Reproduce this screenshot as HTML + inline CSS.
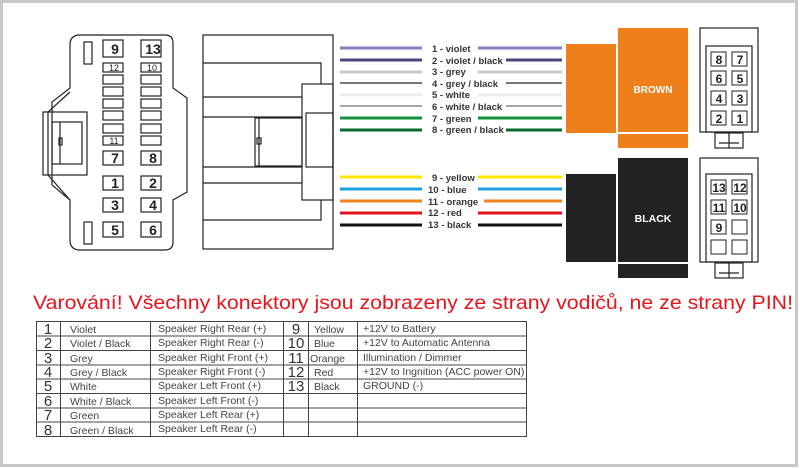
<!DOCTYPE html>
<html><head><meta charset="utf-8"><style>
html,body{margin:0;padding:0;background:#fff}
svg{display:block}
text{font-family:"Liberation Sans",Arial,sans-serif}
</style></head><body>
<svg width="800" height="468" viewBox="0 0 800 468" xmlns="http://www.w3.org/2000/svg">
<rect x="0" y="0" width="800" height="468" fill="#fff"/>
<rect x="1.5" y="1.5" width="795" height="464" fill="none" stroke="#c8c8c8" stroke-width="3"/>
<g fill="none" stroke="#222" stroke-width="1.2">
<!-- left connector -->
<path d="M80 35 H165 Q173 35 173 43 V88 L187 98 V192 L173 200 V242 Q173 250 165 250 H80 Q70 250 70 240 V200 L52 185 V102 L70 88 V45 Q70 35 80 35 Z"/>
<path d="M70 92 L48 112 V175 L70 200"/>
<rect x="43" y="112" width="44" height="63"/>
<rect x="52" y="122" width="30" height="42"/>
<line x1="60" y1="122" x2="60" y2="164"/>
<rect x="59" y="138" width="3" height="7"/>
<rect x="84" y="42" width="8" height="22"/>
<rect x="84" y="222" width="8" height="22"/>
<!-- pins -->
<rect x="103" y="40" width="20" height="17"/><rect x="141" y="40" width="20" height="17"/>
<rect x="103" y="63" width="20" height="9"/><rect x="141" y="63" width="20" height="9"/>
<rect x="103" y="75" width="20" height="9"/><rect x="141" y="75" width="20" height="9"/>
<rect x="103" y="87" width="20" height="9"/><rect x="141" y="87" width="20" height="9"/>
<rect x="103" y="99" width="20" height="9"/><rect x="141" y="99" width="20" height="9"/>
<rect x="103" y="111" width="20" height="9"/><rect x="141" y="111" width="20" height="9"/>
<rect x="103" y="124" width="20" height="9"/><rect x="141" y="124" width="20" height="9"/>
<rect x="103" y="136" width="20" height="9"/><rect x="141" y="136" width="20" height="9"/>
<rect x="103" y="151" width="20" height="14"/><rect x="141" y="151" width="20" height="14"/>
<rect x="103" y="176" width="20" height="14"/><rect x="141" y="176" width="20" height="14"/>
<rect x="103" y="198" width="20" height="14"/><rect x="141" y="198" width="20" height="14"/>
<rect x="103" y="222" width="20" height="15"/><rect x="141" y="222" width="20" height="15"/>
<!-- middle connector -->
<rect x="203" y="35" width="130" height="214"/>
<polyline points="203,63 321,63 321,84"/>
<line x1="203" y1="97" x2="302" y2="97"/>
<line x1="203" y1="117" x2="302" y2="117"/>
<line x1="203" y1="167" x2="302" y2="167"/>
<line x1="203" y1="183" x2="302" y2="183"/>
<polyline points="203,220 321,220 321,200"/>
<rect x="302" y="84" width="31" height="116"/>
<rect x="306" y="113" width="27" height="54"/>
<rect x="255" y="118" width="47" height="48"/>
<line x1="259" y1="118" x2="259" y2="166"/>
<rect x="257" y="138" width="4" height="6"/>
<!-- right connectors -->
<rect x="700" y="28" width="58" height="104"/>
<rect x="706" y="46" width="46" height="86"/>
<rect x="715" y="133" width="28" height="15"/><line x1="729" y1="133" x2="729" y2="148"/><line x1="719" y1="143" x2="739" y2="143"/>
<rect x="700" y="158" width="58" height="104"/>
<rect x="706" y="174" width="46" height="88"/>
<rect x="715" y="263" width="28" height="15"/><line x1="729" y1="263" x2="729" y2="278"/><line x1="719" y1="273" x2="739" y2="273"/>
</g>
<g fill="none" stroke="#222" stroke-width="1">
<rect x="711" y="52" width="15" height="14"/><rect x="732" y="52" width="15" height="14"/>
<rect x="711" y="71" width="15" height="14"/><rect x="732" y="71" width="15" height="14"/>
<rect x="711" y="91" width="15" height="14"/><rect x="732" y="91" width="15" height="14"/>
<rect x="711" y="111" width="15" height="14"/><rect x="732" y="111" width="15" height="14"/>
<rect x="711" y="180" width="15" height="14"/><rect x="732" y="180" width="15" height="14"/>
<rect x="711" y="200" width="15" height="14"/><rect x="732" y="200" width="15" height="14"/>
<rect x="711" y="220" width="15" height="14"/><rect x="732" y="220" width="15" height="14"/>
<rect x="711" y="240" width="15" height="14"/><rect x="732" y="240" width="15" height="14"/>
</g>
<g font-size="14" font-weight="bold" fill="#222" text-anchor="middle">
<text x="115" y="54">9</text><text x="153" y="54">13</text>
<text x="115" y="163">7</text><text x="153" y="163">8</text>
<text x="115" y="188">1</text><text x="153" y="188">2</text>
<text x="115" y="210">3</text><text x="153" y="210">4</text>
<text x="115" y="235">5</text><text x="153" y="235">6</text>
</g>
<g font-size="9" fill="#222" text-anchor="middle">
<text x="114" y="71">12</text><text x="152" y="71">10</text><text x="114" y="144">11</text>
</g>
<g font-size="12" font-weight="bold" fill="#222" text-anchor="middle">
<text x="719" y="64">8</text><text x="740" y="64">7</text>
<text x="719" y="83">6</text><text x="740" y="83">5</text>
<text x="719" y="103">4</text><text x="740" y="103">3</text>
<text x="719" y="123">2</text><text x="740" y="123">1</text>
<text x="719" y="192">13</text><text x="740" y="192">12</text>
<text x="719" y="212">11</text><text x="740" y="212">10</text>
<text x="719" y="232">9</text>
</g>
<!-- wires -->
<g stroke-width="3">
<path d="M340 48H422M478 48H562" stroke="#8b7cc0"/>
<path d="M340 60H422M506 60H562" stroke="#4a4680"/>
<path d="M340 72H422M478 72H562" stroke="#c8c8c8"/>
<path d="M340 83H422M506 83H562" stroke="#777" stroke-width="2"/>
<path d="M340 95H422M478 95H562" stroke="#ececec"/>
<path d="M340 106H422M506 106H562" stroke="#888" stroke-width="1.5"/>
<path d="M340 118H422M478 118H562" stroke="#15913c"/>
<path d="M340 130H422M506 130H562" stroke="#0d6a2e"/>
<path d="M340 177H422M478 177H562" stroke="#ffe600"/>
<path d="M340 189H422M478 189H562" stroke="#1ea0e0"/>
<path d="M340 201H422M484 201H562" stroke="#f0821e"/>
<path d="M340 213H422M478 213H562" stroke="#e0141e"/>
<path d="M340 225H422M478 225H562" stroke="#111"/>
</g>
<g font-size="9.5" font-weight="bold" fill="#333">
<text x="432" y="52">1 - violet</text>
<text x="432" y="64">2 - violet / black</text>
<text x="432" y="75">3 - grey</text>
<text x="432" y="87">4 - grey / black</text>
<text x="432" y="98">5 - white</text>
<text x="432" y="110">6 - white / black</text>
<text x="432" y="122">7 - green</text>
<text x="432" y="133">8 - green / black</text>
<text x="432" y="181">9 - yellow</text>
<text x="428" y="193">10 - blue</text>
<text x="428" y="205">11 - orange</text>
<text x="428" y="216">12 - red</text>
<text x="428" y="228">13 - black</text>
</g>
<!-- blocks -->
<rect x="566" y="44" width="50" height="89" fill="#ef7f1a"/>
<rect x="618" y="28" width="70" height="104" fill="#ef7f1a"/>
<rect x="618" y="134" width="70" height="14" fill="#ef7f1a"/>
<rect x="566" y="174" width="50" height="88" fill="#222"/>
<rect x="618" y="158" width="70" height="104" fill="#222"/>
<rect x="618" y="264" width="70" height="14" fill="#222"/>
<text x="653" y="93" font-size="10" font-weight="bold" fill="#fff" text-anchor="middle">BROWN</text>
<text x="653" y="222" font-size="10.5" font-weight="bold" fill="#fff" text-anchor="middle">BLACK</text>
<!-- warning -->
<text x="413" y="309" font-size="19.5" fill="#e8141c" text-anchor="middle" textLength="760" lengthAdjust="spacingAndGlyphs">Varování! Všechny konektory jsou zobrazeny ze strany vodičů, ne ze strany PIN!</text>
<!-- table -->
<g stroke="#444" stroke-width="1" fill="none">
<rect x="36.5" y="321.5" width="490" height="115"/>
<path d="M36 336H527M36 350.5H527M36 365H527M36 379H527M36 393.5H527M36 408H527M36 422H527"/>
<path d="M60.5 321V437M150.5 321V437M283.5 321V437M308.5 321V437M357.5 321V437"/>
</g>
<g font-size="15" fill="#333" text-anchor="middle">
<text x="48" y="334">1</text><text x="48" y="348">2</text><text x="48" y="363">3</text><text x="48" y="377">4</text>
<text x="48" y="391">5</text><text x="48" y="406">6</text><text x="48" y="420">7</text><text x="48" y="435">8</text>
<text x="296" y="334">9</text><text x="296" y="348">10</text><text x="296" y="363">11</text><text x="296" y="377">12</text><text x="296" y="391">13</text>
</g>
<g font-size="10.5" fill="#444">
<text x="70" y="333">Violet</text><text x="70" y="347">Violet / Black</text><text x="70" y="362">Grey</text><text x="70" y="376">Grey / Black</text>
<text x="70" y="390">White</text><text x="70" y="405">White / Black</text><text x="70" y="419">Green</text><text x="70" y="434">Green / Black</text>
<text x="158" y="332">Speaker Right Rear (+)</text><text x="158" y="346">Speaker Right Rear (-)</text>
<text x="158" y="361">Speaker Right Front (+)</text><text x="158" y="375">Speaker Right Front (-)</text>
<text x="158" y="389">Speaker Left Front (+)</text><text x="158" y="404">Speaker Left Front (-)</text>
<text x="158" y="418">Speaker Left Rear (+)</text><text x="158" y="432">Speaker Left Rear (-)</text>
<text x="314" y="333">Yellow</text><text x="314" y="347">Blue</text><text x="310" y="362">Orange</text><text x="314" y="376">Red</text><text x="314" y="390">Black</text>
<text x="363" y="332">+12V to Battery</text><text x="363" y="346">+12V to Automatic Antenna</text>
<text x="363" y="361">Illumination / Dimmer</text><text x="363" y="375">+12V to Ingnition (ACC power ON)</text>
<text x="363" y="389">GROUND (-)</text>
</g>
</svg>
</body></html>
